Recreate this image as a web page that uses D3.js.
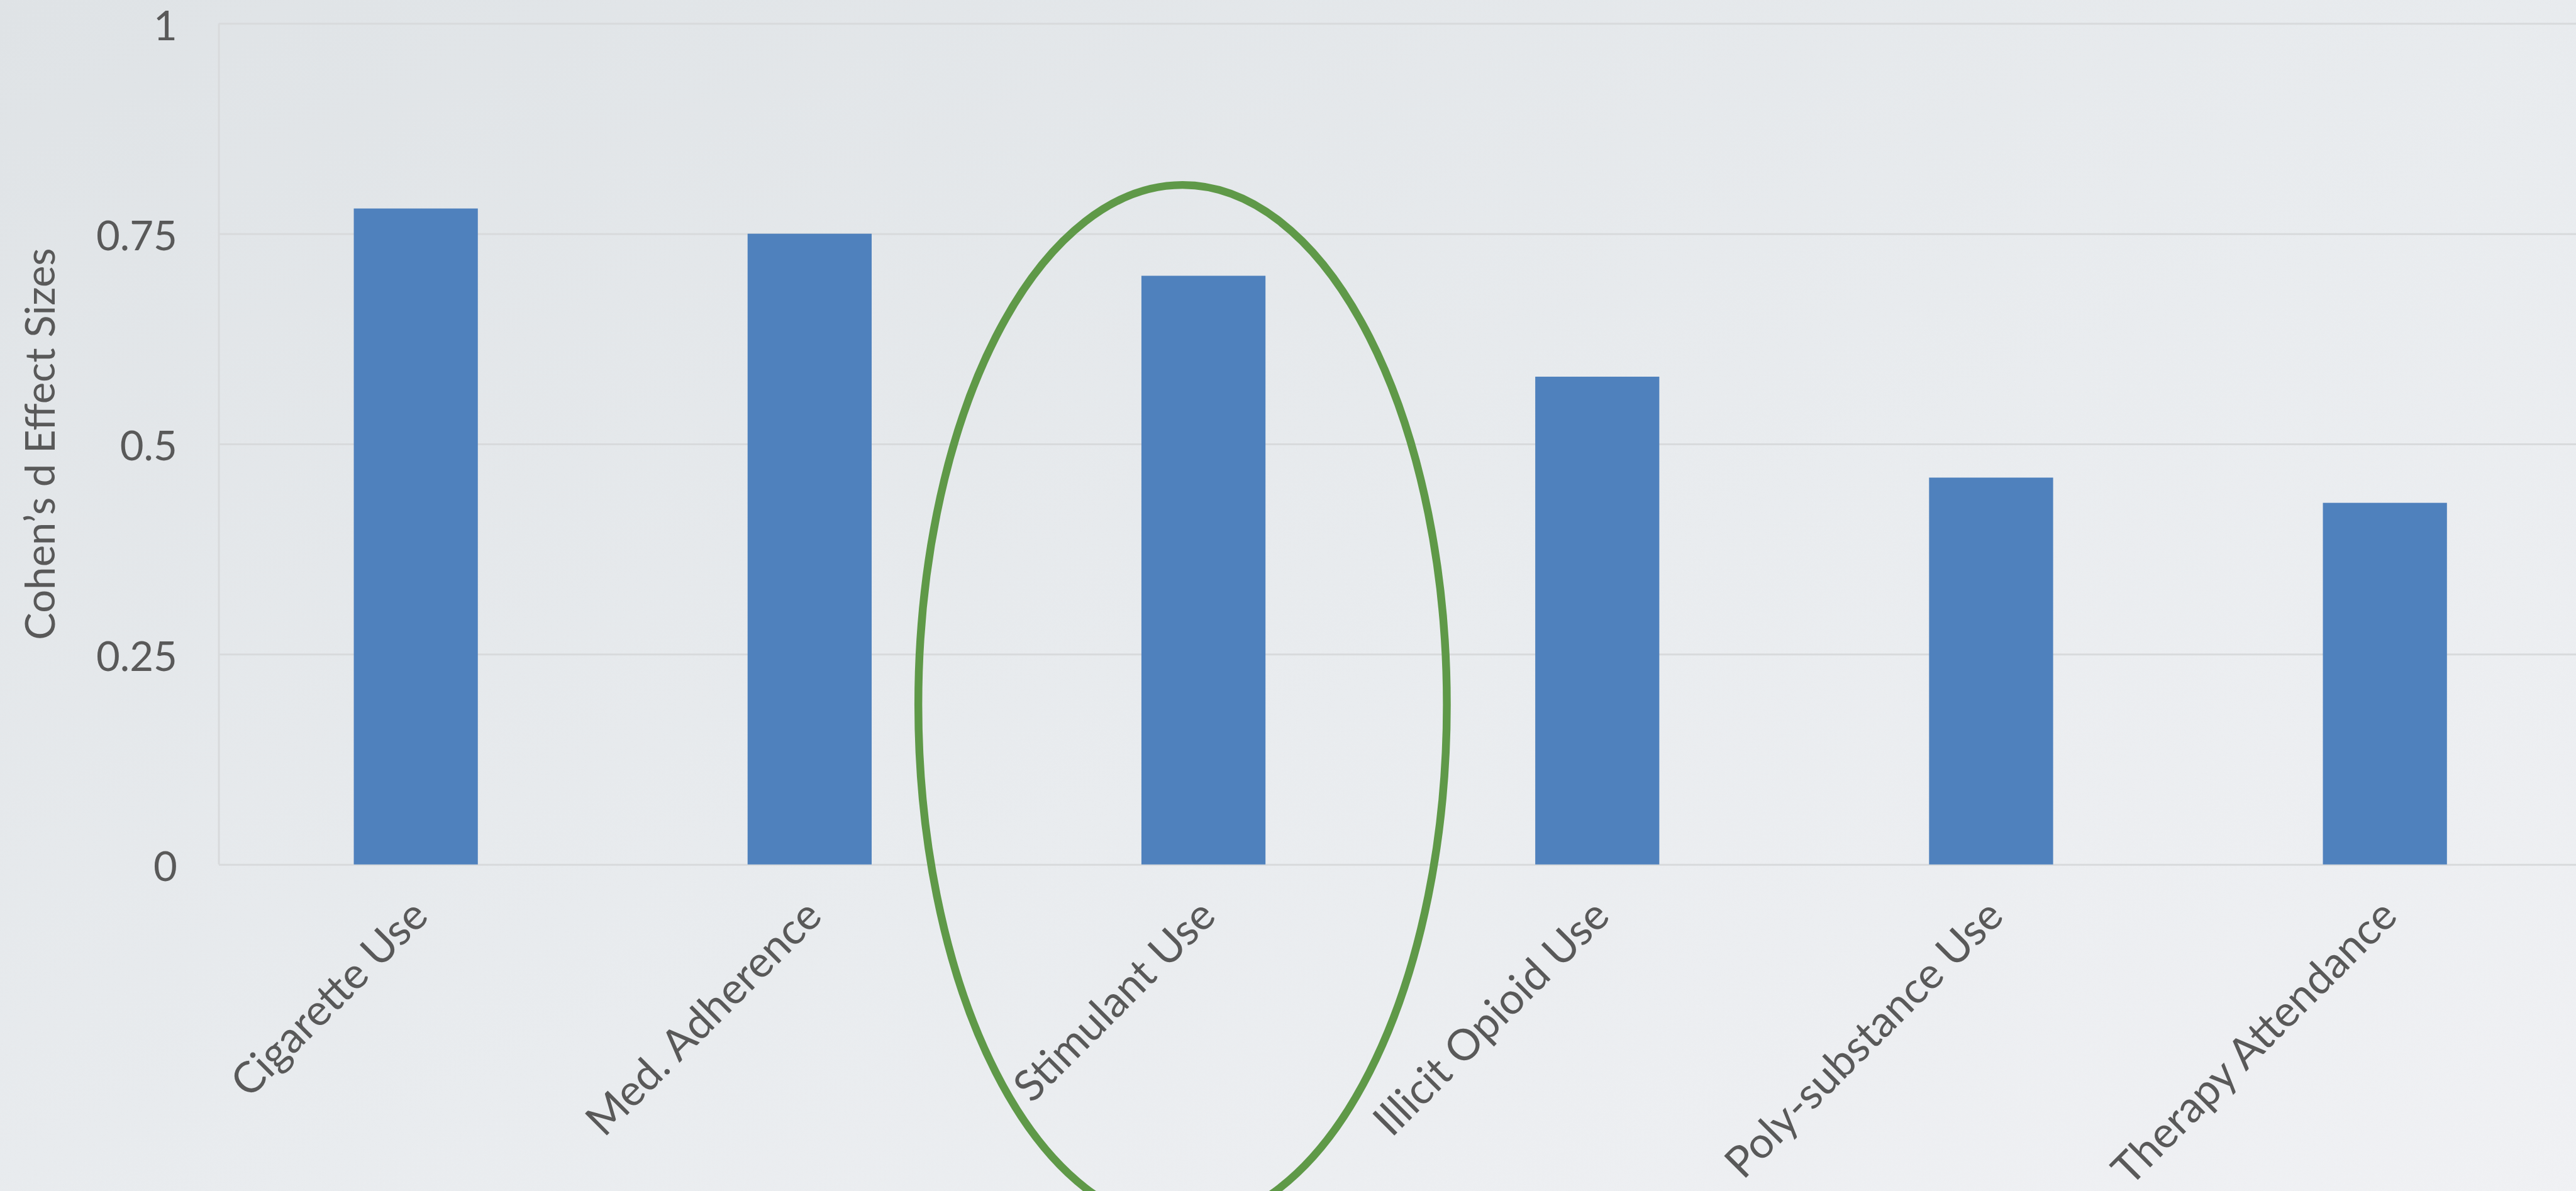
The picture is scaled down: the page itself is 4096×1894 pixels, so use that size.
<!DOCTYPE html>
<html>
<head>
<meta charset="utf-8">
<script src="https://cdn.jsdelivr.net/npm/d3@7"></script>
<style>
  html, body { margin: 0; padding: 0; overflow: hidden; background: #e9ecef; }
  svg { display: block; }
</style>
</head>
<body>
<svg id="chart"></svg>
<script>
// Effect sizes by outcome
const categories = ["Cigarette Use", "Med. Adherence", "Stimulant Use", "Illicit Opioid Use", "Poly-substance Use", "Therapy Attendance"];
const effectSizes = [0.78, 0.75, 0.70, 0.58, 0.46, 0.43];
const yTickValues = [0, 0.25, 0.5, 0.75, 1];
const yTickLabels = ["0", "0.25", "0.5", "0.75", "1"];
const yAxisTitle = "Cohen’s d Effect Sizes";

// Outcome circled on the slide, with the ellipse extent in value units
const highlightCategory = "Stimulant Use";
const highlightTop = 0.808;
const highlightBottom = -0.428;
const highlightHalfWidthSteps = 0.671;
const highlightShiftSteps = -0.053;

(function draw() {
  const W = 4113, H = 1902;
  const FONT = "Lato, 'Open Sans', sans-serif";
  const TEXT = "#595959";

  const svg = d3.select("#chart")
    .attr("width", 4096).attr("height", 1894)
    .attr("viewBox", `0 0 ${W} ${H}`)
    .attr("preserveAspectRatio", "none");

  // Paper-like backdrop
  const defs = svg.append("defs");
  const bg = defs.append("linearGradient").attr("id", "bg")
    .attr("x1", "0").attr("y1", "0").attr("x2", "1").attr("y2", "1");
  bg.append("stop").attr("offset", "0").attr("stop-color", "#e0e4e7");
  bg.append("stop").attr("offset", "0.55").attr("stop-color", "#eaedf0");
  bg.append("stop").attr("offset", "1").attr("stop-color", "#f1f2f5");
  const grain = defs.append("filter").attr("id", "grain")
    .attr("x", 0).attr("y", 0).attr("width", "100%").attr("height", "100%");
  grain.append("feTurbulence").attr("type", "fractalNoise")
    .attr("baseFrequency", 0.9).attr("numOctaves", 2).attr("seed", 3);
  grain.append("feColorMatrix").attr("type", "matrix")
    .attr("values", "0 0 0 0 0.5  0 0 0 0 0.5  0 0 0 0 0.5  0 0 0 0.05 0");
  svg.append("rect").attr("width", W).attr("height", H).attr("fill", "url(#bg)");
  svg.append("rect").attr("width", W).attr("height", H).attr("filter", "url(#grain)");

  // Plot frame
  const plotLeft = 349.5, plotTop = 37.5, plotBottom = 1380.5;
  const step = 628.8;
  const plotRight = plotLeft + categories.length * step;

  const x = d3.scaleBand()
    .domain(categories)
    .range([plotLeft, plotRight])
    .paddingInner(0.685)
    .paddingOuter(0.3425)
    .align(0.5);

  const y = d3.scaleLinear().domain([0, 1]).range([plotBottom, plotTop]);

  // Gridlines
  const grid = svg.append("g")
    .attr("transform", `translate(${plotLeft},0)`)
    .call(d3.axisLeft(y).tickValues(yTickValues).tickSize(-(plotRight - plotLeft)).tickFormat(""));
  grid.select(".domain").remove();
  grid.selectAll(".tick line").attr("stroke", "#d8dadc").attr("stroke-width", 3);

  // Left axis line
  svg.append("line")
    .attr("x1", plotLeft).attr("x2", plotLeft)
    .attr("y1", y(1)).attr("y2", y(0))
    .attr("stroke", "#d8dadc").attr("stroke-width", 3);

  // Y tick labels
  svg.append("g").selectAll("text")
    .data(yTickValues)
    .join("text")
    .attr("x", 283)
    .attr("y", d => y(d) + 26.5)
    .attr("text-anchor", "end")
    .attr("font-family", FONT)
    .attr("font-size", 65.5)
    .attr("fill", TEXT)
    .text((d, i) => yTickLabels[i]);

  // Y axis title
  svg.append("text")
    .attr("transform", `translate(87,${(plotTop + plotBottom) / 2}) rotate(-90)`)
    .attr("text-anchor", "middle")
    .attr("font-family", FONT)
    .attr("font-size", 65.5)
    .attr("fill", TEXT)
    .text(yAxisTitle);

  // Bars
  svg.append("g").selectAll("rect")
    .data(categories)
    .join("rect")
    .attr("x", d => x(d))
    .attr("width", x.bandwidth())
    .attr("y", (d, i) => y(effectSizes[i]))
    .attr("height", (d, i) => y(0) - y(effectSizes[i]))
    .attr("fill", "#4f81bd");

  // Category labels, slanted
  const xAxis = svg.append("g")
    .attr("transform", `translate(0,${plotBottom})`)
    .call(d3.axisBottom(x).tickSize(0).tickPadding(0));
  xAxis.select(".domain").remove();
  xAxis.selectAll(".tick text")
    .attr("y", 0).attr("dy", 0)
    .attr("transform", "translate(23,86) rotate(-45)")
    .attr("text-anchor", "end")
    .attr("font-family", FONT)
    .attr("font-size", 69)
    .attr("fill", TEXT);

  // Highlight ellipse
  const hcx = x(highlightCategory) + x.bandwidth() / 2 + highlightShiftSteps * x.step();
  const hTop = y(highlightTop), hBot = y(highlightBottom);
  svg.append("ellipse")
    .attr("cx", hcx)
    .attr("cy", (hTop + hBot) / 2)
    .attr("rx", highlightHalfWidthSteps * x.step())
    .attr("ry", (hBot - hTop) / 2)
    .attr("fill", "none")
    .attr("stroke", "#5f9948")
    .attr("stroke-width", 12.5);
})();
</script>
</body>
</html>
